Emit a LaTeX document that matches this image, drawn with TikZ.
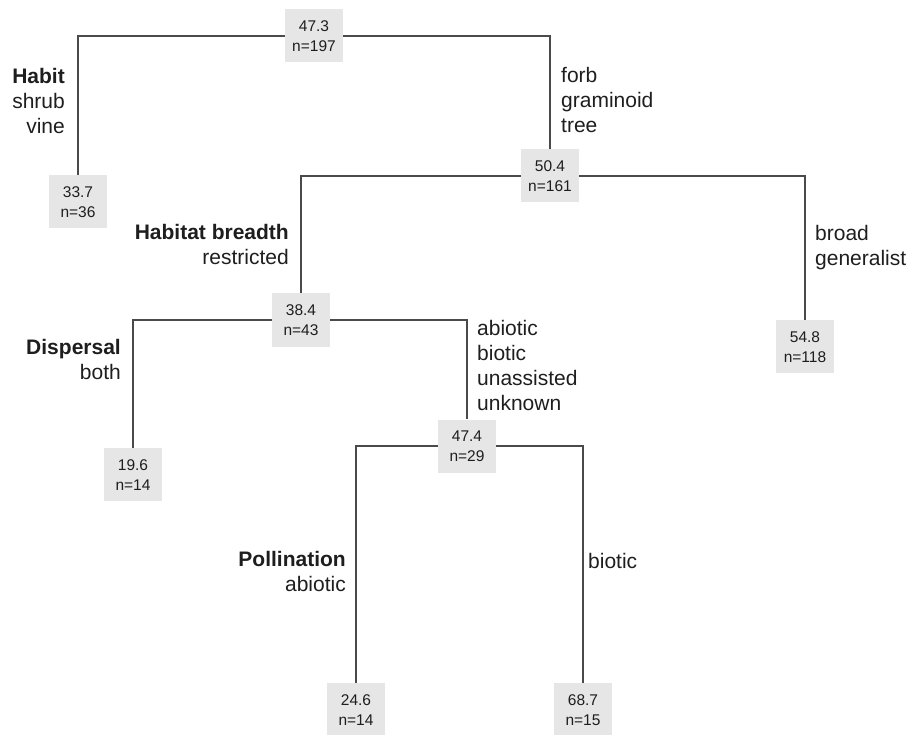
\documentclass[tikz,border=0pt]{standalone}
\usepackage{fontspec}
\setmainfont{Liberation Sans}
\definecolor{boxgray}{HTML}{E6E6E6}
\definecolor{linegray}{HTML}{4A4A4A}
\definecolor{textgray}{HTML}{1E1E1E}
\begin{document}
\begin{tikzpicture}[x=1pt, y=-1pt,%
% common options for the value boxes:
box/.style = {fill=boxgray, align=center, minimum width=58pt, minimum height=53pt,
            inner sep=0, text=textgray, font=\fontsize{15.5}{20}\selectfont},
% common options for the split labels:
lab/.style = {inner sep=0, text=textgray, font=\fontsize{21}{25}\selectfont},
% common options for the branches:
branch/.style = {draw=linegray, line width=1.6pt}]
\useasboundingbox (0,0) rectangle (918,735);
% inner nodes
\node[box] (N0) at (314,36) {47.3\\n=197};
\node[box] (N1) at (550,176) {50.4\\n=161};
\node[box] (N2) at (301,320) {38.4\\n=43};
\node[box] (N3) at (467,446) {47.4\\n=29};
% leaves
\node[box, anchor=north] (L1) at (78,175) {33.7\\n=36};
\node[box, anchor=north] (L2) at (805,320) {54.8\\n=118};
\node[box, anchor=north] (L3) at (133,448) {19.6\\n=14};
\node[box, anchor=north] (L4) at (356,683) {24.6\\n=14};
\node[box, anchor=north] (L5) at (583,683) {68.7\\n=15};
% split labels
\node[lab, align=right, anchor=north east] (S0l) at (65,68) {\textbf{Habit}\\shrub\\vine};
\node[lab, align=left, anchor=north west] (S0r) at (561,67) {forb\\graminoid\\tree};
\node[lab, align=right, anchor=north east] (S1l) at (289,224) {\textbf{Habitat breadth}\\restricted};
\node[lab, align=left, anchor=north west] (S1r) at (815,225) {broad\\generalist};
\node[lab, align=right, anchor=north east] (S2l) at (121,339) {\textbf{Dispersal}\\both};
\node[lab, align=left, anchor=north west] (S2r) at (477,320) {abiotic\\biotic\\unassisted\\unknown};
\node[lab, align=right, anchor=north east] (S3l) at (346,551) {\textbf{Pollination}\\abiotic};
\node[lab, align=left, anchor=north west] (S3r) at (588,553) {biotic};
% branches
\draw[branch] (N0.west) -| (L1.north);
\draw[branch] (N0.east) -| (N1.north);
\draw[branch] (N1.west) -| (N2.north);
\draw[branch] (N1.east) -| (L2.north);
\draw[branch] (N2.west) -| (L3.north);
\draw[branch] (N2.east) -| (N3.north);
\draw[branch] (N3.west) -| (L4.north);
\draw[branch] (N3.east) -| (L5.north);
\end{tikzpicture}
\end{document}
